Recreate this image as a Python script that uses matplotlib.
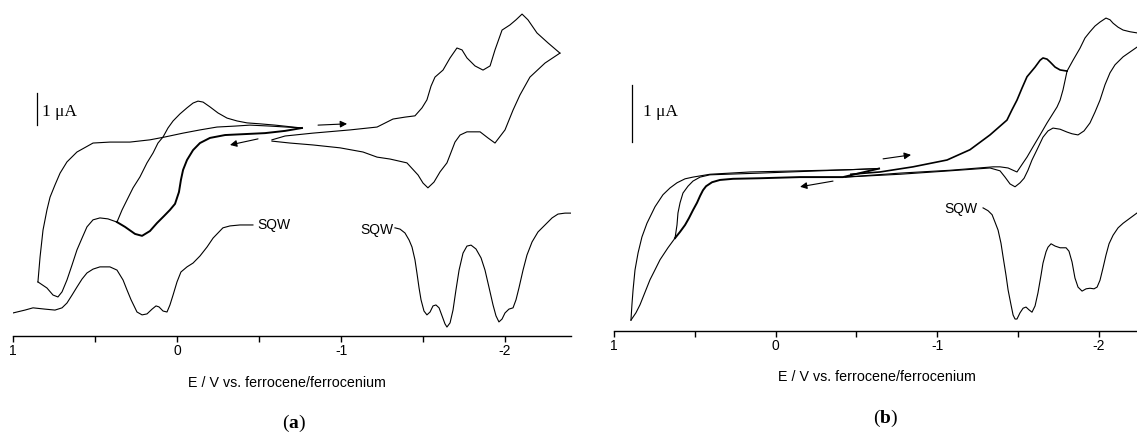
import numpy as np
import matplotlib.pyplot as plt

plt.rcParams['font.family'] = ['Liberation Sans', 'DejaVu Sans']
plt.rcParams['mathtext.fontset'] = 'custom'
plt.rcParams['mathtext.rm'] = 'Liberation Serif'
plt.rcParams['mathtext.bf'] = 'Liberation Serif:bold'

# E in V vs. Fc/Fc+, I in uA (curves are offset, no absolute zero)
# ---------------- panel (a) ----------------
a_ox_sweep = [[-0.762, 6.50], [-0.659, 6.41], [-0.537, 6.34], [-0.415, 6.31], [-0.293, 6.28],
              [-0.201, 6.19], [-0.140, 6.03], [-0.098, 5.81], [-0.061, 5.50], [-0.037, 5.19],
              [-0.024, 4.88], [-0.012, 4.50], [0.012, 4.13], [0.043, 3.94], [0.079, 3.75],
              [0.122, 3.53], [0.165, 3.28], [0.213, 3.13], [0.256, 3.19], [0.317, 3.41],
              [0.366, 3.56]]
a_ox_tail = [[0.366, 3.56], [0.421, 3.66], [0.470, 3.69], [0.512, 3.63], [0.549, 3.41],
             [0.579, 3.06], [0.610, 2.69], [0.640, 2.22], [0.671, 1.75], [0.701, 1.38],
             [0.726, 1.22], [0.756, 1.28], [0.793, 1.50], [0.848, 1.69]]
a_ox_back1 = [[0.848, 1.69], [0.835, 2.47], [0.817, 3.31], [0.793, 3.94], [0.774, 4.34],
              [0.744, 4.72], [0.713, 5.09], [0.671, 5.44], [0.610, 5.75], [0.512, 6.03],
              [0.409, 6.06], [0.287, 6.06], [0.165, 6.13], [0.073, 6.22], [-0.037, 6.34],
              [-0.140, 6.44], [-0.244, 6.53], [-0.354, 6.56], [-0.445, 6.59], [-0.567, 6.56],
              [-0.762, 6.50]]
a_ox_back2 = [[0.366, 3.56], [0.335, 3.94], [0.305, 4.25], [0.268, 4.63], [0.226, 4.97],
              [0.183, 5.41], [0.146, 5.72], [0.116, 6.03], [0.085, 6.22], [0.055, 6.50],
              [0.024, 6.72], [-0.018, 6.94], [-0.061, 7.13], [-0.098, 7.28], [-0.128, 7.34],
              [-0.159, 7.31], [-0.201, 7.16], [-0.250, 6.97], [-0.305, 6.81], [-0.366, 6.72],
              [-0.427, 6.66], [-0.506, 6.63], [-0.598, 6.59], [-0.762, 6.50]]
a_red_fwd = [[-0.579, 6.13], [-0.659, 6.25], [-0.829, 6.34], [-1.055, 6.44], [-1.220, 6.53],
             [-1.317, 6.78], [-1.390, 6.84], [-1.451, 6.88], [-1.494, 7.13], [-1.524, 7.38],
             [-1.549, 7.81], [-1.573, 8.09], [-1.622, 8.31], [-1.665, 8.69], [-1.707, 9.00],
             [-1.738, 8.94], [-1.768, 8.69], [-1.817, 8.44], [-1.866, 8.31], [-1.909, 8.44],
             [-1.939, 8.94], [-1.982, 9.56], [-2.030, 9.72], [-2.067, 9.88], [-2.104, 10.06],
             [-2.140, 9.88], [-2.195, 9.47], [-2.262, 9.16], [-2.335, 8.84]]
a_red_rev = [[-2.335, 8.84], [-2.244, 8.53], [-2.152, 8.09], [-2.091, 7.53], [-2.049, 7.06],
             [-2.000, 6.44], [-1.939, 6.03], [-1.896, 6.19], [-1.848, 6.38], [-1.768, 6.38],
             [-1.726, 6.28], [-1.695, 6.06], [-1.665, 5.66], [-1.646, 5.41], [-1.604, 5.13],
             [-1.567, 4.81], [-1.530, 4.63], [-1.500, 4.78], [-1.470, 5.03], [-1.402, 5.41],
             [-1.299, 5.53], [-1.220, 5.59], [-1.134, 5.75], [-0.994, 5.88], [-0.829, 5.97],
             [-0.689, 6.03], [-0.579, 6.09]]
a_sqw_ox = [[1.000, 0.72], [0.927, 0.81], [0.878, 0.88], [0.805, 0.84], [0.744, 0.81],
            [0.701, 0.88], [0.671, 1.03], [0.640, 1.28], [0.610, 1.53], [0.579, 1.78],
            [0.549, 1.97], [0.512, 2.09], [0.470, 2.16], [0.409, 2.16], [0.366, 2.06],
            [0.329, 1.75], [0.305, 1.44], [0.280, 1.13], [0.244, 0.75], [0.213, 0.66],
            [0.183, 0.69], [0.152, 0.84], [0.128, 0.94], [0.110, 0.91], [0.085, 0.78],
            [0.061, 0.75], [0.043, 0.97], [0.024, 1.28], [0.000, 1.69], [-0.024, 2.00],
            [-0.061, 2.16], [-0.098, 2.28], [-0.140, 2.50], [-0.183, 2.78], [-0.220, 3.06],
            [-0.250, 3.22], [-0.280, 3.38], [-0.323, 3.44], [-0.384, 3.47], [-0.463, 3.47]]
a_sqw_red = [[-1.329, 3.38], [-1.360, 3.34], [-1.390, 3.22], [-1.415, 3.00], [-1.433, 2.78],
             [-1.451, 2.38], [-1.463, 1.97], [-1.476, 1.50], [-1.488, 1.13], [-1.506, 0.78],
             [-1.524, 0.66], [-1.543, 0.75], [-1.561, 0.94], [-1.579, 0.97], [-1.598, 0.88],
             [-1.616, 0.63], [-1.634, 0.38], [-1.646, 0.28], [-1.665, 0.41], [-1.683, 0.81],
             [-1.701, 1.44], [-1.720, 2.06], [-1.744, 2.59], [-1.768, 2.81], [-1.793, 2.84],
             [-1.823, 2.72], [-1.854, 2.44], [-1.878, 2.06], [-1.902, 1.53], [-1.927, 0.97],
             [-1.945, 0.63], [-1.963, 0.44], [-1.982, 0.53], [-2.000, 0.72], [-2.024, 0.84],
             [-2.049, 0.88], [-2.067, 1.13], [-2.085, 1.50], [-2.110, 2.06], [-2.134, 2.53],
             [-2.165, 2.94], [-2.201, 3.25], [-2.244, 3.47], [-2.287, 3.69], [-2.323, 3.81],
             [-2.366, 3.84], [-2.410, 3.84]]

# ---------------- panel (b) ----------------
b_ox_sweep = [[-0.641, 2.85], [-0.418, 2.70], [-0.152, 2.70], [0.096, 2.68], [0.263, 2.67],
              [0.344, 2.65], [0.393, 2.61], [0.430, 2.54], [0.449, 2.47], [0.467, 2.37],
              [0.486, 2.25], [0.511, 2.12], [0.536, 1.98], [0.560, 1.86], [0.591, 1.74],
              [0.622, 1.63]]
b_ox_tail = [[0.622, 1.63], [0.666, 1.46], [0.715, 1.25], [0.752, 1.04], [0.777, 0.90],
             [0.808, 0.68], [0.839, 0.46], [0.864, 0.32], [0.895, 0.19]]
b_ox_back1 = [[0.895, 0.19], [0.889, 0.46], [0.882, 0.72], [0.870, 1.07], [0.851, 1.37],
              [0.827, 1.65], [0.796, 1.89], [0.746, 2.18], [0.697, 2.39], [0.653, 2.51],
              [0.610, 2.60], [0.560, 2.67], [0.511, 2.70], [0.406, 2.75], [0.158, 2.79],
              [-0.152, 2.81], [-0.461, 2.83], [-0.641, 2.85]]
b_ox_back2 = [[0.622, 1.63], [0.610, 1.86], [0.604, 2.07], [0.591, 2.25], [0.573, 2.42],
              [0.542, 2.54], [0.511, 2.63], [0.467, 2.70], [0.406, 2.74], [0.096, 2.77],
              [-0.276, 2.81], [-0.641, 2.85]]
b_red_fwd1 = [[-0.467, 2.75], [-0.647, 2.79], [-0.851, 2.88], [-1.062, 3.00], [-1.204, 3.18],
              [-1.328, 3.44], [-1.433, 3.70], [-1.464, 3.88], [-1.495, 4.05], [-1.526, 4.26],
              [-1.557, 4.46], [-1.607, 4.63], [-1.638, 4.75], [-1.656, 4.79], [-1.681, 4.77],
              [-1.700, 4.72], [-1.731, 4.63], [-1.762, 4.58], [-1.805, 4.56]]
b_red_rev1 = [[-1.805, 4.56], [-1.793, 4.40], [-1.780, 4.23], [-1.762, 4.05], [-1.743, 3.93],
              [-1.712, 3.79], [-1.681, 3.65], [-1.638, 3.44], [-1.594, 3.23], [-1.557, 3.05],
              [-1.533, 2.95], [-1.495, 2.79], [-1.471, 2.82], [-1.440, 2.86], [-1.390, 2.88],
              [-1.347, 2.88], [-1.080, 2.82], [-0.771, 2.77], [-0.430, 2.70]]
b_red_fwd2 = [[-1.805, 4.56], [-1.842, 4.75], [-1.885, 4.96], [-1.916, 5.14], [-1.947, 5.25],
              [-1.978, 5.35], [-2.009, 5.42], [-2.046, 5.49], [-2.071, 5.46], [-2.090, 5.40],
              [-2.121, 5.33], [-2.152, 5.28], [-2.195, 5.25], [-2.238, 5.23], [-2.319, 5.19]]
b_red_rev2 = [[-2.319, 5.19], [-2.288, 5.07], [-2.238, 4.98], [-2.152, 4.81], [-2.102, 4.67],
              [-2.071, 4.53], [-2.040, 4.32], [-2.009, 4.05], [-1.978, 3.84], [-1.947, 3.65],
              [-1.910, 3.51], [-1.873, 3.44], [-1.836, 3.46], [-1.805, 3.49], [-1.762, 3.54],
              [-1.718, 3.56], [-1.687, 3.51], [-1.656, 3.40], [-1.619, 3.18], [-1.588, 3.00],
              [-1.563, 2.82], [-1.539, 2.68], [-1.514, 2.60], [-1.483, 2.53], [-1.452, 2.58],
              [-1.421, 2.70], [-1.390, 2.81], [-1.328, 2.86], [-1.080, 2.81], [-0.771, 2.75],
              [-0.430, 2.70]]
b_sqw_red = [[-1.285, 2.16], [-1.316, 2.11], [-1.341, 2.04], [-1.359, 1.91], [-1.378, 1.77],
             [-1.396, 1.54], [-1.409, 1.30], [-1.427, 0.98], [-1.440, 0.72], [-1.458, 0.46],
             [-1.471, 0.28], [-1.483, 0.21], [-1.495, 0.21], [-1.514, 0.32], [-1.533, 0.40],
             [-1.551, 0.42], [-1.570, 0.37], [-1.588, 0.33], [-1.607, 0.44], [-1.625, 0.67],
             [-1.644, 0.98], [-1.656, 1.19], [-1.675, 1.39], [-1.687, 1.47], [-1.706, 1.53],
             [-1.731, 1.49], [-1.762, 1.46], [-1.799, 1.46], [-1.817, 1.40], [-1.836, 1.21],
             [-1.854, 0.93], [-1.873, 0.77], [-1.898, 0.70], [-1.923, 0.74], [-1.947, 0.75],
             [-1.972, 0.74], [-1.991, 0.77], [-2.009, 0.89], [-2.028, 1.11], [-2.046, 1.33],
             [-2.065, 1.53], [-2.090, 1.68], [-2.121, 1.81], [-2.152, 1.89], [-2.195, 1.98],
             [-2.238, 2.07], [-2.288, 2.16]]

tick_vals = [1, 0, -1, -2]
tick_labels = ['1', '0', '-1', '-2']
minor_vals = [0.5, -0.5, -1.5]

W, H = 1137, 434
fig = plt.figure(figsize=(W / 100, H / 100), dpi=100)


def panel(x0, x1, yaxis, px_per_uA, xlim):
    ax = fig.add_axes([x0 / W, (H - yaxis) / H, (x1 - x0) / W, yaxis / H])
    ax.set_xlim(*xlim)
    ax.set_ylim(0, yaxis / px_per_uA)
    for s in ['top', 'left', 'right']:
        ax.spines[s].set_visible(False)
    ax.spines['bottom'].set_linewidth(1.0)
    ax.set_yticks([])
    ax.set_xticks(tick_vals)
    ax.set_xticklabels(tick_labels)
    ax.set_xticks(minor_vals, minor=True)
    ax.tick_params(axis='x', which='both', direction='out', length=4, width=1,
                   labelsize=10, pad=2)
    ax.patch.set_alpha(0)
    return ax


def trace(ax, pts, lw=0.8):
    p = np.array(pts)
    ax.plot(p[:, 0], p[:, 1], color='k', lw=lw, solid_joinstyle='round')


def arrow(ax, tail, head):
    ax.annotate('', xy=head, xytext=tail,
                arrowprops=dict(arrowstyle='-|>', color='k', lw=0.8,
                                mutation_scale=10, shrinkA=0, shrinkB=0))


# panel (a)
ax1 = panel(13, 570.6, 336, 32, (1, -2.4))
trace(ax1, a_ox_sweep, 1.4)
for c in [a_ox_tail, a_ox_back1, a_ox_back2, a_red_fwd, a_red_rev, a_sqw_ox, a_sqw_red]:
    trace(ax1, c)
arrow(ax1, (-0.860, 6.59), (-1.037, 6.63))
arrow(ax1, (-0.494, 6.16), (-0.323, 5.97))
ax1.plot([0.854, 0.854], [6.59, 7.59], color='k', lw=0.9)
ax1.text(0.823, 7.0, '1 μA', family='Liberation Serif', fontsize=12.5, va='center', ha='left')
ax1.text(-0.49, 3.47, 'SQW', fontsize=10, va='center', ha='left')
ax1.text(-1.317, 3.31, 'SQW', fontsize=10, va='center', ha='right')

# panel (b)
ax2 = panel(614, 1137.3, 331, 57, (1, -2.24))
trace(ax2, b_ox_sweep, 1.4)
for c in [b_ox_tail, b_ox_back1, b_ox_back2, b_red_rev1, b_red_fwd2, b_red_rev2, b_sqw_red]:
    trace(ax2, c)
trace(ax2, b_red_fwd1, 1.2)
arrow(ax2, (-0.666, 3.02), (-0.839, 3.09))
arrow(ax2, (-0.356, 2.63), (-0.152, 2.53))
ax2.plot([0.889, 0.889], [3.32, 4.32], color='k', lw=0.9)
ax2.text(0.82, 3.84, '1 μA', family='Liberation Serif', fontsize=12.5, va='center', ha='left')
ax2.text(-1.248, 2.14, 'SQW', fontsize=10, va='center', ha='right')

fig.text(287 / W, 1 - 383 / H, 'E / V vs. ferrocene/ferrocenium', fontsize=10.3,
         ha='center', va='center')
fig.text(877 / W, 1 - 377 / H, 'E / V vs. ferrocene/ferrocenium', fontsize=10.3,
         ha='center', va='center')
fig.text(294 / W, 1 - 423 / H, r'($\mathbf{a}$)', family='Liberation Serif', fontsize=14,
         ha='center', va='center')
fig.text(886 / W, 1 - 418 / H, r'($\mathbf{b}$)', family='Liberation Serif', fontsize=14,
         ha='center', va='center')

fig.savefig('out.png', dpi=100)
